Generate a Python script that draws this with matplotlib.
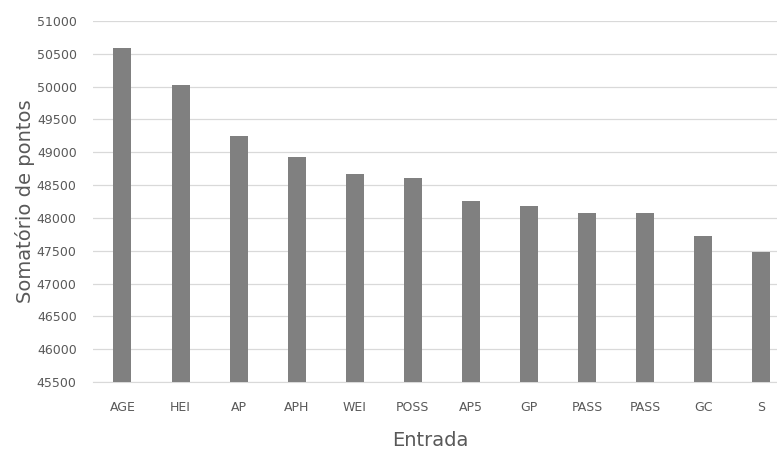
import matplotlib.pyplot as plt
import numpy as np

categories = ['AGE', 'HEI', 'AP', 'APH', 'WEI', 'POSS', 'AP5', 'GP', 'PASS', 'PASS', 'GC', 'S']
values = [50590, 50030, 49250, 48925, 48665, 48610, 48260, 48185, 48070, 48070, 47725, 47485]
yticks = list(range(45500, 51001, 500))

fig = plt.figure(figsize=(7.77, 4.51), dpi=100)
# axes extends past right edge like the cropped original
ax = fig.add_axes([93.4 / 777, 1 - 382 / 451, 697.0 / 777, (382 - 21) / 451])

x = np.arange(len(categories))
ax.bar(x, values, width=0.31, color='#808080', zorder=3)

ax.set_ylim(45500, 51000)
ax.set_xlim(-0.5, len(categories) - 0.5)
ax.set_yticks(yticks)
ax.set_xticks(x)
ax.set_xticklabels(categories)
ax.tick_params(axis='both', length=0, colors='#595959', labelsize=9)
ax.tick_params(axis='y', pad=12)
ax.tick_params(axis='x', pad=14)
ax.grid(axis='y', color='#d9d9d9', linewidth=0.9, zorder=0)
for s in ['top', 'right', 'left']:
    ax.spines[s].set_visible(False)
ax.spines['bottom'].set_color('#d9d9d9')

ax.set_ylabel('Somatório de pontos', fontsize=14, color='#595959', labelpad=1)
fig.text(430 / 777, 1 - 440 / 451, 'Entrada', fontsize=14, color='#595959', ha='center', va='center')

fig.savefig('out.png', dpi=100)
